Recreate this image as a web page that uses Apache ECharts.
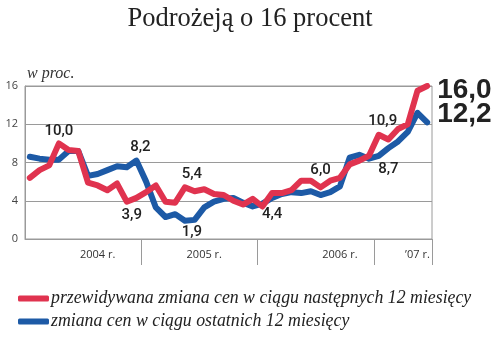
<!DOCTYPE html>
<html>
<head>
<meta charset="utf-8">
<script src="https://cdn.jsdelivr.net/npm/echarts@6/dist/echarts.min.js"></script>
<style>html,body{margin:0;padding:0;background:#fff}#c{width:500px;height:338px}</style>
</head>
<body>
<div id="c"></div>
<script>
// Monthly categories: Jan 2004 .. Jun 2007
var months = [];
var years = ['2004','2005','2006','2007'];
for (var y = 0; y < 4; y++) { for (var m = 1; m <= (y < 3 ? 12 : 6); m++) months.push(years[y] + '-' + (m < 10 ? '0' + m : m)); }

var yearLabels = { 7: '2004 r.', 18: '2005 r.', 32: '2006 r.', 40: '\u201907 r.' };
var yearBoundaries = [12, 24, 36];
var yTicks = [0, 4, 8, 12, 16];

var expected = [6.4, 7.2, 7.7, 10.0, 9.3, 9.2, 5.9, 5.6, 5.1, 5.8, 3.9, 4.3,
                4.9, 5.6, 3.9, 3.8, 5.4, 5.0, 5.2, 4.7, 4.6, 4.0, 3.6, 4.2,
                3.4, 4.8, 4.8, 5.1, 6.1, 6.1, 5.4, 6.1, 6.4, 7.8, 8.2, 8.7,
                10.9, 10.4, 11.5, 12.0, 15.5, 16.0];
var actual = [8.6, 8.4, 8.3, 8.3, 9.2, 9.2, 6.6, 6.8, 7.2, 7.6, 7.5, 8.2,
              6.0, 3.3, 2.3, 2.6, 1.9, 2.0, 3.3, 3.9, 4.2, 4.3, 3.8, 3.4,
              3.7, 4.3, 4.7, 4.9, 4.8, 5.0, 4.6, 4.9, 5.5, 8.5, 8.8, 8.4,
              8.7, 9.5, 10.2, 11.2, 13.2, 12.2];

var nameExpected = 'przewidywana zmiana cen w ciągu następnych 12 miesięcy';
var nameActual = 'zmiana cen w ciągu ostatnich 12 miesięcy';

// annotations: index -> [text, position, distance, offsetX, offsetY, big]
var expectedNotes = { 3: ['10,0','top',5,0,0], 10: ['3,9','bottom',6,5,0], 16: ['5,4','top',6,7,0],
                      30: ['6,0','top',10,0,0], 36: ['10,9','top',6,4,0], 41: ['16,0','right',10,0,4,true] };
var actualNotes = { 11: ['8,2','top',6,4,0], 16: ['1,9','bottom',4,7,0], 25: ['4,4','bottom',9,0,0],
                    37: ['8,7','bottom',14,0,0], 41: ['12,2','right',10,0,-8,true] };

function build(values, notes) {
  return values.map(function (v, i) {
    var n = notes[i];
    if (!n) return v;
    return { value: v, label: {
      show: true, formatter: n[0], position: n[1], distance: n[2], offset: [n[3], n[4]],
      fontFamily: n[5] ? 'Liberation Sans' : 'Roboto', fontWeight: n[5] ? 'bold' : 500,
      fontSize: n[5] ? 28 : 15, color: '#222'
    } };
  });
}

var RED = '#e0334f', BLUE = '#1d5aa6';
var chart = echarts.init(document.getElementById('c'));
chart.setOption({
  animation: false,
  title: { text: 'Podrożeją o 16 procent', left: 'center', top: 1,
    textStyle: { fontFamily: 'Liberation Serif', fontWeight: 'normal', fontSize: 26.5, color: '#222' } },
  legend: {
    data: [nameExpected, nameActual], orient: 'vertical', left: 13, top: 284, itemGap: 4,
    itemWidth: 31, itemHeight: 6, icon: 'roundRect',
    textStyle: { fontFamily: 'Liberation Serif', fontStyle: 'italic', fontSize: 17.8, lineHeight: 19, color: '#222', padding: [0, 0, 0, -3] }
  },
  grid: { left: 25, right: 68, top: 86, bottom: 99, show: true, borderColor: '#9a9a9a', borderWidth: 1 },
  xAxis: {
    type: 'category', data: months, boundaryGap: true,
    axisLine: { lineStyle: { color: '#9a9a9a' } },
    axisTick: { show: true, length: 26, interval: function (i) { return yearBoundaries.indexOf(i) >= 0; }, lineStyle: { color: '#9a9a9a' } },
    axisLabel: { interval: 0, margin: 10, fontFamily: 'Open Sans', fontSize: 11, color: '#333',
      formatter: function (v, i) { return yearLabels[i] || ''; } }
  },
  yAxis: {
    type: 'value', min: yTicks[0], max: yTicks[yTicks.length - 1], interval: 4,
    name: 'w proc.', nameLocation: 'end', nameGap: 4,
    nameTextStyle: { fontFamily: 'Liberation Serif', fontStyle: 'italic', fontSize: 16, color: '#333', align: 'left', padding: [0, 0, 0, 2] },
    axisLine: { show: true, lineStyle: { color: '#9a9a9a' } },
    axisTick: { show: false },
    axisLabel: { margin: 7, fontFamily: 'Open Sans', fontSize: 11, color: '#444' },
    splitLine: { lineStyle: { color: '#9a9a9a' } }
  },
  series: [
    { name: nameActual, type: 'line', data: build(actual, actualNotes), symbol: 'circle', symbolSize: 0, showSymbol: true,
      lineStyle: { color: BLUE, width: 6, cap: 'round', join: 'round' }, itemStyle: { color: BLUE }, z: 2 },
    { name: nameExpected, type: 'line', data: build(expected, expectedNotes), symbol: 'circle', symbolSize: 0, showSymbol: true,
      lineStyle: { color: RED, width: 6, cap: 'round', join: 'round' }, itemStyle: { color: RED }, z: 3 }
  ]
});
</script>
</body>
</html>
